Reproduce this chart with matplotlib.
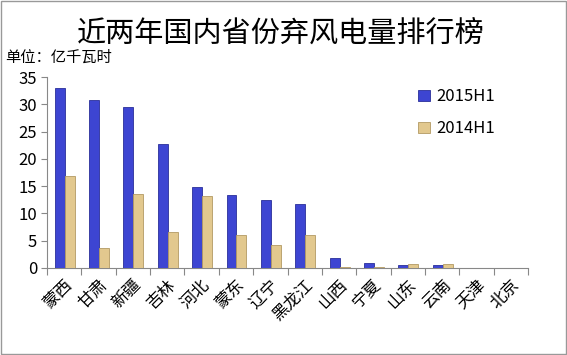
import matplotlib.pyplot as plt
import numpy as np

plt.rcParams['font.family'] = ['Noto Sans CJK SC', 'DejaVu Sans']

provinces = ["蒙西", "甘肃", "新疆", "吉林", "河北", "蒙东", "辽宁",
             "黑龙江", "山西", "宁夏", "山东", "云南", "天津", "北京"]
h1_2015 = [33.0, 30.8, 29.5, 22.8, 14.8, 13.3, 12.4, 11.7, 1.8, 1.0, 0.5, 0.5, 0.05, 0.05]
h1_2014 = [16.8, 3.7, 13.6, 6.6, 13.2, 6.1, 4.3, 6.0, 0.1, 0.1, 0.7, 0.7, 0.05, 0.05]
yticks = [0, 5, 10, 15, 20, 25, 30, 35]

fig = plt.figure(figsize=(5.67, 3.55), dpi=100)
ax = fig.add_axes([47 / 567, (355 - 268) / 355, (528 - 47) / 567, (268 - 77) / 355])

x = np.arange(len(provinces))
w = 0.29
ax.bar(x - 0.13, h1_2015, width=w, color="#3d45d2", edgecolor="#2a2f9a", linewidth=0.6,
       label="2015H1", zorder=3)
ax.bar(x - 0.13 + w, h1_2014, width=w, color="#e2c88e", edgecolor="#b39a63", linewidth=0.6,
       label="2014H1", zorder=3)

ax.set_xlim(-0.5, len(provinces) - 0.5)
ax.set_ylim(0, 35)
ax.set_yticks(yticks)
ax.tick_params(axis="y", labelsize=12, length=4, color="#888888", pad=3)

# category labels between boundary ticks, like excel
ax.set_xticks(np.arange(len(provinces) + 1) - 0.5)
ax.set_xticklabels([])
ax.tick_params(axis="x", length=5, color="#888888", direction="out")
ax.set_xticks(x, minor=True)
ax.set_xticklabels(provinces, minor=True, rotation=45, ha="right", rotation_mode="anchor",
                   fontsize=12)
ax.tick_params(axis="x", which="minor", length=0, pad=6)

for s in ["top", "right"]:
    ax.spines[s].set_visible(False)
for s in ["left", "bottom"]:
    ax.spines[s].set_color("#888888")

ax.legend(loc="upper left", bbox_to_anchor=(0.74, 1.02), frameon=False, fontsize=12,
          handlelength=0.7, handleheight=0.7, handletextpad=0.4, labelspacing=0.9)

fig.text(281 / 567, 1 - 35 / 355, "近两年国内省份弃风电量排行榜", fontsize=21,
         ha="center", va="center")
fig.text(5 / 567, 1 - 57 / 355, "单位：亿千瓦时", fontsize=11, ha="left", va="center")

border = plt.Rectangle((0.002, 0.002), 0.996, 0.996, transform=fig.transFigure,
                       fill=False, edgecolor="#999999", linewidth=1)
fig.patches.append(border)

fig.savefig("out.png", dpi=100)
